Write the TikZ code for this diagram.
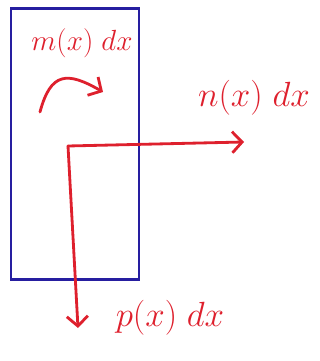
\documentclass[tikz,border=0pt]{standalone}
\usepackage{amsmath}
\usepackage{tikz}
\usetikzlibrary{arrows.meta}
\definecolor{inkred}{RGB}{222,32,45}
\definecolor{inkblue}{RGB}{38,30,160}
\tikzstyle{box} = [draw=inkblue, line width=2pt, inner sep=0pt]
\tikzstyle{flow} = [inkred, line width=2pt, line cap=round, ->, >={Straight Barb[length=7pt,width=15pt,line width=2pt]}]
\tikzstyle{label} = [inkred, font=\Huge, inner sep=0pt]

\begin{document}
\begin{tikzpicture}[x=0.025cm,y=0.025cm]
    \useasboundingbox (0,0) rectangle (320,361);
    \node[box, minimum width=3.2cm, minimum height=6.775cm] (slice) at (75,217) {};
    \coordinate (corner) at (68,215);
    \coordinate (nend) at (244,219);
    \coordinate (pend) at (78,33);
    \coordinate (turnstart) at (40,249);
    \coordinate (turnend) at (103,269);
    \draw[flow] (corner) -- (nend);
    \draw[flow] (corner) -- (pend);
    \draw[flow] (turnstart) to[out=75,in=150,looseness=1.6] (turnend);
    \node[label, font=\huge] (mlabel) at (82,318) {\(m(x)\;dx\)};
    \node[label] (nlabel) at (254,263) {\(n(x)\;dx\)};
    \node[label] (plabel) at (170,43) {\(p(x)\;dx\)};
\end{tikzpicture}
\end{document}
